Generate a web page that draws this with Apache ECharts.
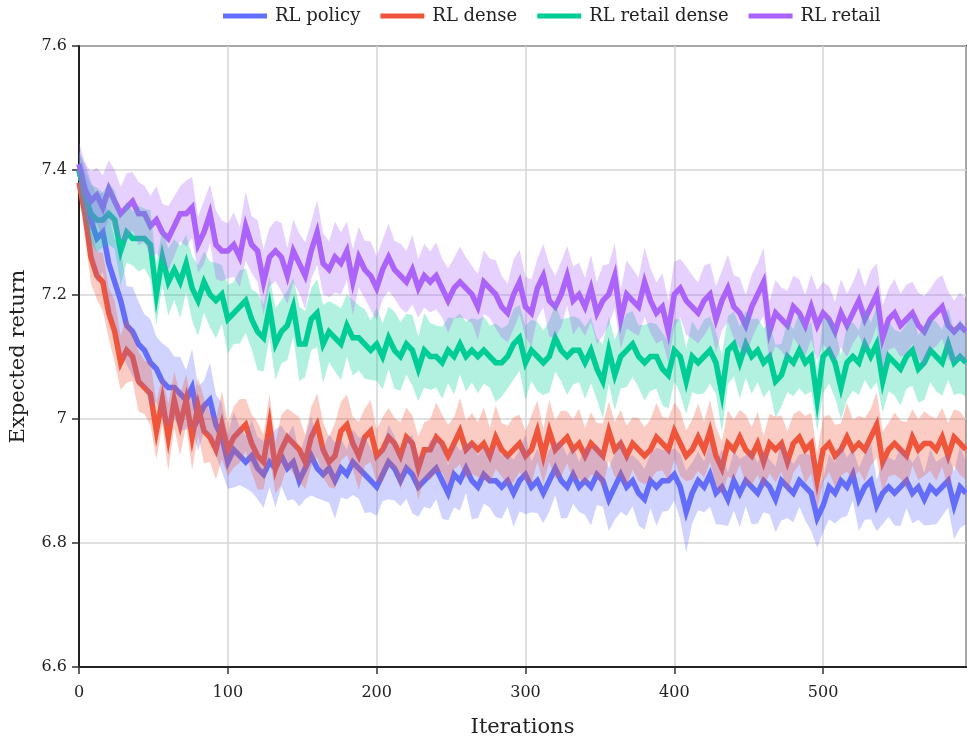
<!DOCTYPE html>
<html>
<head>
<meta charset="utf-8">
<script src="https://cdn.jsdelivr.net/npm/echarts@6/dist/echarts.min.js"></script>
<style>
  html, body { margin: 0; padding: 0; background: #fff; }
  #chart { width: 967px; height: 744px; }
</style>
</head>
<body>
<div id="chart"></div>
<script>
// iterations sampled every 4 steps (0..596)
const STEP = 4;

// mean expected return per series
const policyMean = [
  7.40,7.36,7.32,7.29,7.30,7.25,7.22,7.19,7.15,7.14,7.12,7.11,7.09,7.08,7.06,7.05,7.05,7.04,7.03,7.05,
  7.00,7.02,7.03,6.99,6.97,6.93,6.95,6.94,6.93,6.94,6.92,6.91,6.93,6.92,6.94,6.92,6.93,6.90,6.92,6.94,
  6.92,6.91,6.92,6.90,6.92,6.91,6.93,6.92,6.91,6.90,6.89,6.91,6.93,6.92,6.90,6.92,6.91,6.89,6.90,6.91,
  6.92,6.90,6.88,6.91,6.90,6.92,6.90,6.89,6.91,6.90,6.90,6.89,6.90,6.88,6.90,6.91,6.89,6.90,6.88,6.90,
  6.92,6.90,6.89,6.91,6.89,6.90,6.89,6.91,6.90,6.87,6.89,6.91,6.89,6.90,6.88,6.87,6.90,6.89,6.90,6.90,
  6.91,6.89,6.85,6.88,6.90,6.89,6.91,6.88,6.89,6.87,6.90,6.88,6.90,6.89,6.88,6.90,6.89,6.87,6.90,6.89,
  6.88,6.90,6.89,6.88,6.84,6.86,6.89,6.88,6.90,6.89,6.91,6.87,6.89,6.90,6.86,6.88,6.89,6.88,6.89,6.90,
  6.88,6.89,6.87,6.89,6.88,6.89,6.90,6.86,6.89,6.88
];
const denseMean = [
  7.38,7.33,7.26,7.23,7.22,7.17,7.14,7.09,7.11,7.10,7.06,7.05,7.04,6.98,7.03,6.97,7.03,6.99,7.03,6.97,
  7.02,6.98,6.97,6.95,6.99,6.95,6.97,6.98,6.99,6.96,6.94,6.93,6.99,6.92,6.95,6.97,6.96,6.95,6.93,6.97,
  6.99,6.95,6.93,6.94,6.98,6.99,6.96,6.94,6.97,6.98,6.94,6.95,6.97,6.96,6.94,6.97,6.96,6.92,6.95,6.95,
  6.97,6.96,6.94,6.96,6.98,6.95,6.96,6.95,6.96,6.94,6.97,6.95,6.94,6.95,6.96,6.94,6.95,6.98,6.94,6.98,
  6.95,6.96,6.97,6.95,6.96,6.94,6.96,6.95,6.94,6.98,6.95,6.96,6.94,6.96,6.95,6.94,6.95,6.97,6.96,6.95,
  6.98,6.96,6.94,6.95,6.97,6.95,6.98,6.94,6.92,6.96,6.95,6.97,6.95,6.94,6.96,6.93,6.96,6.95,6.96,6.93,
  6.96,6.97,6.95,6.96,6.90,6.95,6.96,6.94,6.95,6.97,6.95,6.96,6.95,6.97,6.99,6.93,6.95,6.96,6.95,6.94,
  6.97,6.95,6.96,6.96,6.95,6.97,6.94,6.97,6.96,6.95
];
const retailDenseMean = [
  7.40,7.36,7.33,7.32,7.32,7.33,7.32,7.27,7.30,7.29,7.29,7.29,7.28,7.20,7.26,7.22,7.24,7.22,7.25,7.21,
  7.19,7.22,7.20,7.19,7.20,7.16,7.17,7.18,7.19,7.16,7.14,7.13,7.18,7.12,7.14,7.15,7.18,7.12,7.12,7.16,
  7.17,7.12,7.14,7.13,7.12,7.15,7.13,7.13,7.12,7.11,7.12,7.10,7.13,7.11,7.10,7.12,7.11,7.08,7.11,7.10,
  7.10,7.09,7.11,7.10,7.12,7.10,7.11,7.10,7.11,7.10,7.09,7.09,7.10,7.12,7.13,7.09,7.11,7.10,7.09,7.10,
  7.13,7.11,7.10,7.11,7.11,7.09,7.11,7.08,7.06,7.11,7.07,7.10,7.11,7.12,7.10,7.09,7.10,7.10,7.08,7.07,
  7.11,7.10,7.06,7.10,7.09,7.10,7.11,7.09,7.04,7.11,7.12,7.09,7.12,7.10,7.11,7.09,7.10,7.06,7.07,7.10,
  7.09,7.11,7.09,7.10,7.03,7.10,7.11,7.09,7.05,7.09,7.10,7.09,7.12,7.10,7.12,7.06,7.10,7.09,7.08,7.10,
  7.11,7.08,7.09,7.11,7.10,7.09,7.12,7.09,7.10,7.09
];
const retailMean = [
  7.41,7.37,7.35,7.36,7.34,7.37,7.35,7.33,7.34,7.35,7.33,7.33,7.31,7.32,7.30,7.29,7.31,7.33,7.33,7.34,
  7.28,7.30,7.33,7.28,7.27,7.27,7.28,7.26,7.31,7.28,7.27,7.22,7.26,7.27,7.26,7.23,7.27,7.25,7.23,7.27,
  7.30,7.25,7.24,7.26,7.25,7.27,7.22,7.26,7.24,7.23,7.21,7.24,7.26,7.24,7.23,7.22,7.24,7.21,7.23,7.22,
  7.23,7.21,7.19,7.21,7.22,7.21,7.20,7.18,7.22,7.21,7.20,7.18,7.17,7.20,7.22,7.18,7.17,7.21,7.23,7.19,
  7.18,7.20,7.23,7.19,7.20,7.18,7.21,7.17,7.19,7.20,7.23,7.16,7.20,7.19,7.18,7.22,7.19,7.17,7.18,7.14,
  7.20,7.21,7.19,7.18,7.17,7.19,7.20,7.16,7.19,7.21,7.18,7.17,7.15,7.18,7.20,7.22,7.14,7.17,7.16,7.15,
  7.18,7.17,7.15,7.18,7.15,7.17,7.16,7.14,7.17,7.15,7.17,7.19,7.16,7.18,7.20,7.13,7.16,7.17,7.15,7.16,
  7.17,7.15,7.14,7.16,7.17,7.18,7.15,7.14,7.15,7.14
];

// half-width of the shaded band per series
const policySpread = [
  0.030,0.050,0.062,0.071,0.064,0.078,0.070,0.082,0.063,0.072,0.068,0.058,0.070,0.052,0.061,0.064,0.050,0.059,0.048,0.062,
  0.052,0.041,0.060,0.049,0.055,0.043,0.061,0.047,0.042,0.058,0.050,0.054,0.040,0.063,0.049,0.052,0.060,0.041,0.050,0.064,
  0.048,0.042,0.055,0.061,0.047,0.040,0.053,0.049,0.062,0.051,0.047,0.043,0.060,0.052,0.041,0.049,0.063,0.048,0.042,0.055,
  0.050,0.061,0.044,0.053,0.048,0.040,0.062,0.050,0.047,0.043,0.059,0.051,0.042,0.054,0.049,0.064,0.041,0.052,0.048,0.050,
  0.043,0.061,0.050,0.047,0.040,0.055,0.062,0.049,0.042,0.051,0.053,0.060,0.047,0.041,0.052,0.049,0.044,0.063,0.050,0.048,
  0.042,0.053,0.066,0.049,0.047,0.041,0.052,0.050,0.061,0.043,0.048,0.055,0.041,0.060,0.049,0.051,0.044,0.053,0.064,0.050,
  0.047,0.042,0.054,0.061,0.048,0.043,0.052,0.049,0.060,0.047,0.042,0.051,0.053,0.062,0.041,0.050,0.048,0.052,0.063,0.044,
  0.049,0.053,0.042,0.061,0.050,0.047,0.043,0.054,0.066,0.050
];
const denseSpread = [
  0.025,0.035,0.042,0.038,0.047,0.041,0.050,0.044,0.052,0.040,0.048,0.043,0.051,0.046,0.039,0.054,0.045,0.049,0.041,0.053,
  0.046,0.052,0.040,0.048,0.055,0.043,0.049,0.051,0.042,0.047,0.054,0.044,0.050,0.041,0.056,0.046,0.049,0.052,0.043,0.048,
  0.051,0.045,0.040,0.053,0.047,0.049,0.042,0.055,0.046,0.050,0.043,0.052,0.047,0.041,0.054,0.048,0.045,0.051,0.044,0.049,
  0.056,0.046,0.050,0.042,0.053,0.047,0.049,0.044,0.058,0.045,0.051,0.043,0.048,0.052,0.046,0.040,0.055,0.049,0.044,0.050,
  0.047,0.053,0.042,0.049,0.056,0.045,0.050,0.043,0.052,0.047,0.044,0.054,0.048,0.042,0.051,0.046,0.049,0.055,0.043,0.050,
  0.046,0.052,0.041,0.048,0.054,0.045,0.050,0.047,0.043,0.053,0.049,0.044,0.056,0.046,0.051,0.042,0.048,0.053,0.045,0.050,
  0.047,0.043,0.054,0.049,0.045,0.052,0.046,0.050,0.042,0.055,0.048,0.044,0.051,0.046,0.053,0.049,0.043,0.050,0.047,0.054,
  0.045,0.049,0.052,0.044,0.050,0.047,0.053,0.045,0.051,0.048
];
const retailDenseSpread = [
  0.030,0.040,0.046,0.052,0.044,0.050,0.047,0.055,0.049,0.043,0.053,0.048,0.056,0.050,0.045,0.054,0.049,0.058,0.046,0.052,
  0.057,0.049,0.053,0.061,0.047,0.055,0.050,0.059,0.052,0.048,0.062,0.054,0.049,0.058,0.051,0.056,0.047,0.060,0.053,0.050,
  0.055,0.063,0.049,0.054,0.058,0.050,0.061,0.052,0.056,0.048,0.059,0.053,0.050,0.062,0.055,0.049,0.057,0.052,0.060,0.054,
  0.050,0.058,0.053,0.061,0.049,0.056,0.052,0.059,0.054,0.050,0.063,0.055,0.051,0.057,0.053,0.060,0.049,0.056,0.052,0.058,
  0.054,0.050,0.062,0.055,0.051,0.058,0.053,0.049,0.060,0.054,0.057,0.051,0.059,0.053,0.050,0.061,0.055,0.052,0.058,0.054,
  0.050,0.060,0.053,0.057,0.051,0.059,0.054,0.050,0.062,0.055,0.052,0.058,0.054,0.060,0.051,0.056,0.053,0.059,0.050,0.057,
  0.054,0.061,0.052,0.056,0.050,0.059,0.053,0.057,0.051,0.060,0.055,0.052,0.058,0.054,0.061,0.050,0.056,0.053,0.059,0.052,
  0.057,0.054,0.060,0.051,0.056,0.053,0.058,0.052,0.059,0.055
];
const retailSpread = [
  0.035,0.042,0.048,0.044,0.052,0.046,0.050,0.043,0.055,0.047,0.051,0.045,0.049,0.054,0.046,0.052,0.048,0.044,0.053,0.049,
  0.045,0.051,0.047,0.055,0.049,0.044,0.052,0.048,0.056,0.046,0.050,0.053,0.047,0.049,0.055,0.045,0.051,0.048,0.054,0.046,
  0.052,0.049,0.045,0.057,0.050,0.047,0.053,0.049,0.046,0.055,0.051,0.048,0.054,0.046,0.052,0.050,0.056,0.047,0.051,0.049,
  0.054,0.047,0.052,0.049,0.057,0.050,0.046,0.053,0.051,0.048,0.055,0.050,0.047,0.056,0.052,0.049,0.054,0.047,0.051,0.058,
  0.050,0.053,0.048,0.055,0.051,0.047,0.054,0.050,0.057,0.049,0.052,0.048,0.055,0.051,0.047,0.056,0.052,0.049,0.054,0.050,
  0.053,0.047,0.055,0.051,0.049,0.056,0.050,0.053,0.048,0.054,0.051,0.057,0.049,0.052,0.050,0.055,0.048,0.053,0.051,0.056,
  0.050,0.054,0.049,0.052,0.057,0.050,0.053,0.048,0.055,0.051,0.049,0.054,0.052,0.058,0.050,0.053,0.049,0.055,0.051,0.056,
  0.050,0.053,0.057,0.049,0.054,0.051,0.055,0.050,0.053,0.052
];

const seriesNames = ['RL policy', 'RL dense', 'RL retail dense', 'RL retail'];
const seriesColors = ['#636efa', '#ef553b', '#00cc96', '#ab63fa'];
const bandColors = ['rgba(99,110,250,0.3)', 'rgba(239,85,59,0.3)', 'rgba(0,204,150,0.3)', 'rgba(171,99,250,0.3)'];
const means = [policyMean, denseMean, retailDenseMean, retailMean];
const spreads = [policySpread, denseSpread, retailDenseSpread, retailSpread];

const FONT = 'DejaVu Serif';

function pairs(arr) {
  return arr.map((v, i) => [i * STEP, v]);
}

const series = [];

// mean lines first, bands drawn over them
means.forEach((m, k) => {
  series.push({
    name: seriesNames[k],
    type: 'line',
    data: pairs(m),
    showSymbol: false,
    symbol: 'none',
    lineStyle: { width: 5.5, color: seriesColors[k], join: 'miter' },
    itemStyle: { color: seriesColors[k] },
    z: 2
  });
});

// shaded band: [iteration, lower, upper], drawn as one polygon
means.forEach((m, k) => {
  const band = m.map((v, i) => [i * STEP, v - spreads[k][i], v + spreads[k][i]]);
  series.push({
    name: seriesNames[k] + ' band',
    type: 'custom',
    data: band,
    encode: { x: 0, y: [1, 2] },
    silent: true,
    clip: true,
    z: 3,
    renderItem: (params, api) => {
      if (params.dataIndex !== 0) return null;
      const upper = band.map(d => api.coord([d[0], d[2]]));
      const lower = band.map(d => api.coord([d[0], d[1]])).reverse();
      return {
        type: 'polygon',
        shape: { points: upper.concat(lower) },
        style: { fill: bandColors[k] }
      };
    }
  });
});

const chart = echarts.init(document.getElementById('chart'), null, { renderer: 'canvas' });

chart.setOption({
  animation: false,
  backgroundColor: '#fff',
  textStyle: { fontFamily: FONT, color: '#222' },
  legend: {
    data: seriesNames,
    left: 218,
    top: 2,
    icon: 'rect',
    itemWidth: 44,
    itemHeight: 5,
    itemGap: 20,
    textStyle: { fontFamily: FONT, fontSize: 18, color: '#222', padding: [0, 0, 0, 3] }
  },
  grid: {
    left: 78,
    right: 1,
    top: 46,
    bottom: 77,
    show: true,
    borderColor: '#222',
    borderWidth: 2,
    backgroundColor: 'transparent'
  },
  xAxis: {
    type: 'value',
    min: 0,
    max: 596,
    interval: 100,
    name: 'Iterations',
    nameLocation: 'middle',
    nameGap: 50,
    nameTextStyle: { fontFamily: FONT, fontSize: 21, color: '#222' },
    axisLine: { show: true, lineStyle: { color: '#222', width: 2 } },
    axisTick: { show: true, length: 7, lineStyle: { color: '#333', width: 1.5 } },
    axisLabel: { fontFamily: FONT, fontSize: 16, color: '#222', margin: 18, showMaxLabel: false },
    splitLine: { show: true, lineStyle: { color: '#d4d4d4', width: 1.5 } }
  },
  yAxis: {
    type: 'value',
    min: 6.6,
    max: 7.6,
    interval: 0.2,
    name: 'Expected return',
    nameLocation: 'middle',
    nameGap: 50,
    nameTextStyle: { fontFamily: FONT, fontSize: 21, color: '#222' },
    axisLine: { show: true, lineStyle: { color: '#222', width: 2 } },
    axisTick: { show: true, length: 7, lineStyle: { color: '#333', width: 1.5 } },
    axisLabel: { fontFamily: FONT, fontSize: 16, color: '#222', margin: 12 },
    splitLine: { show: true, lineStyle: { color: '#d4d4d4', width: 1.5 } }
  },
  series: series
});

window.addEventListener('resize', () => chart.resize());
</script>
</body>
</html>
